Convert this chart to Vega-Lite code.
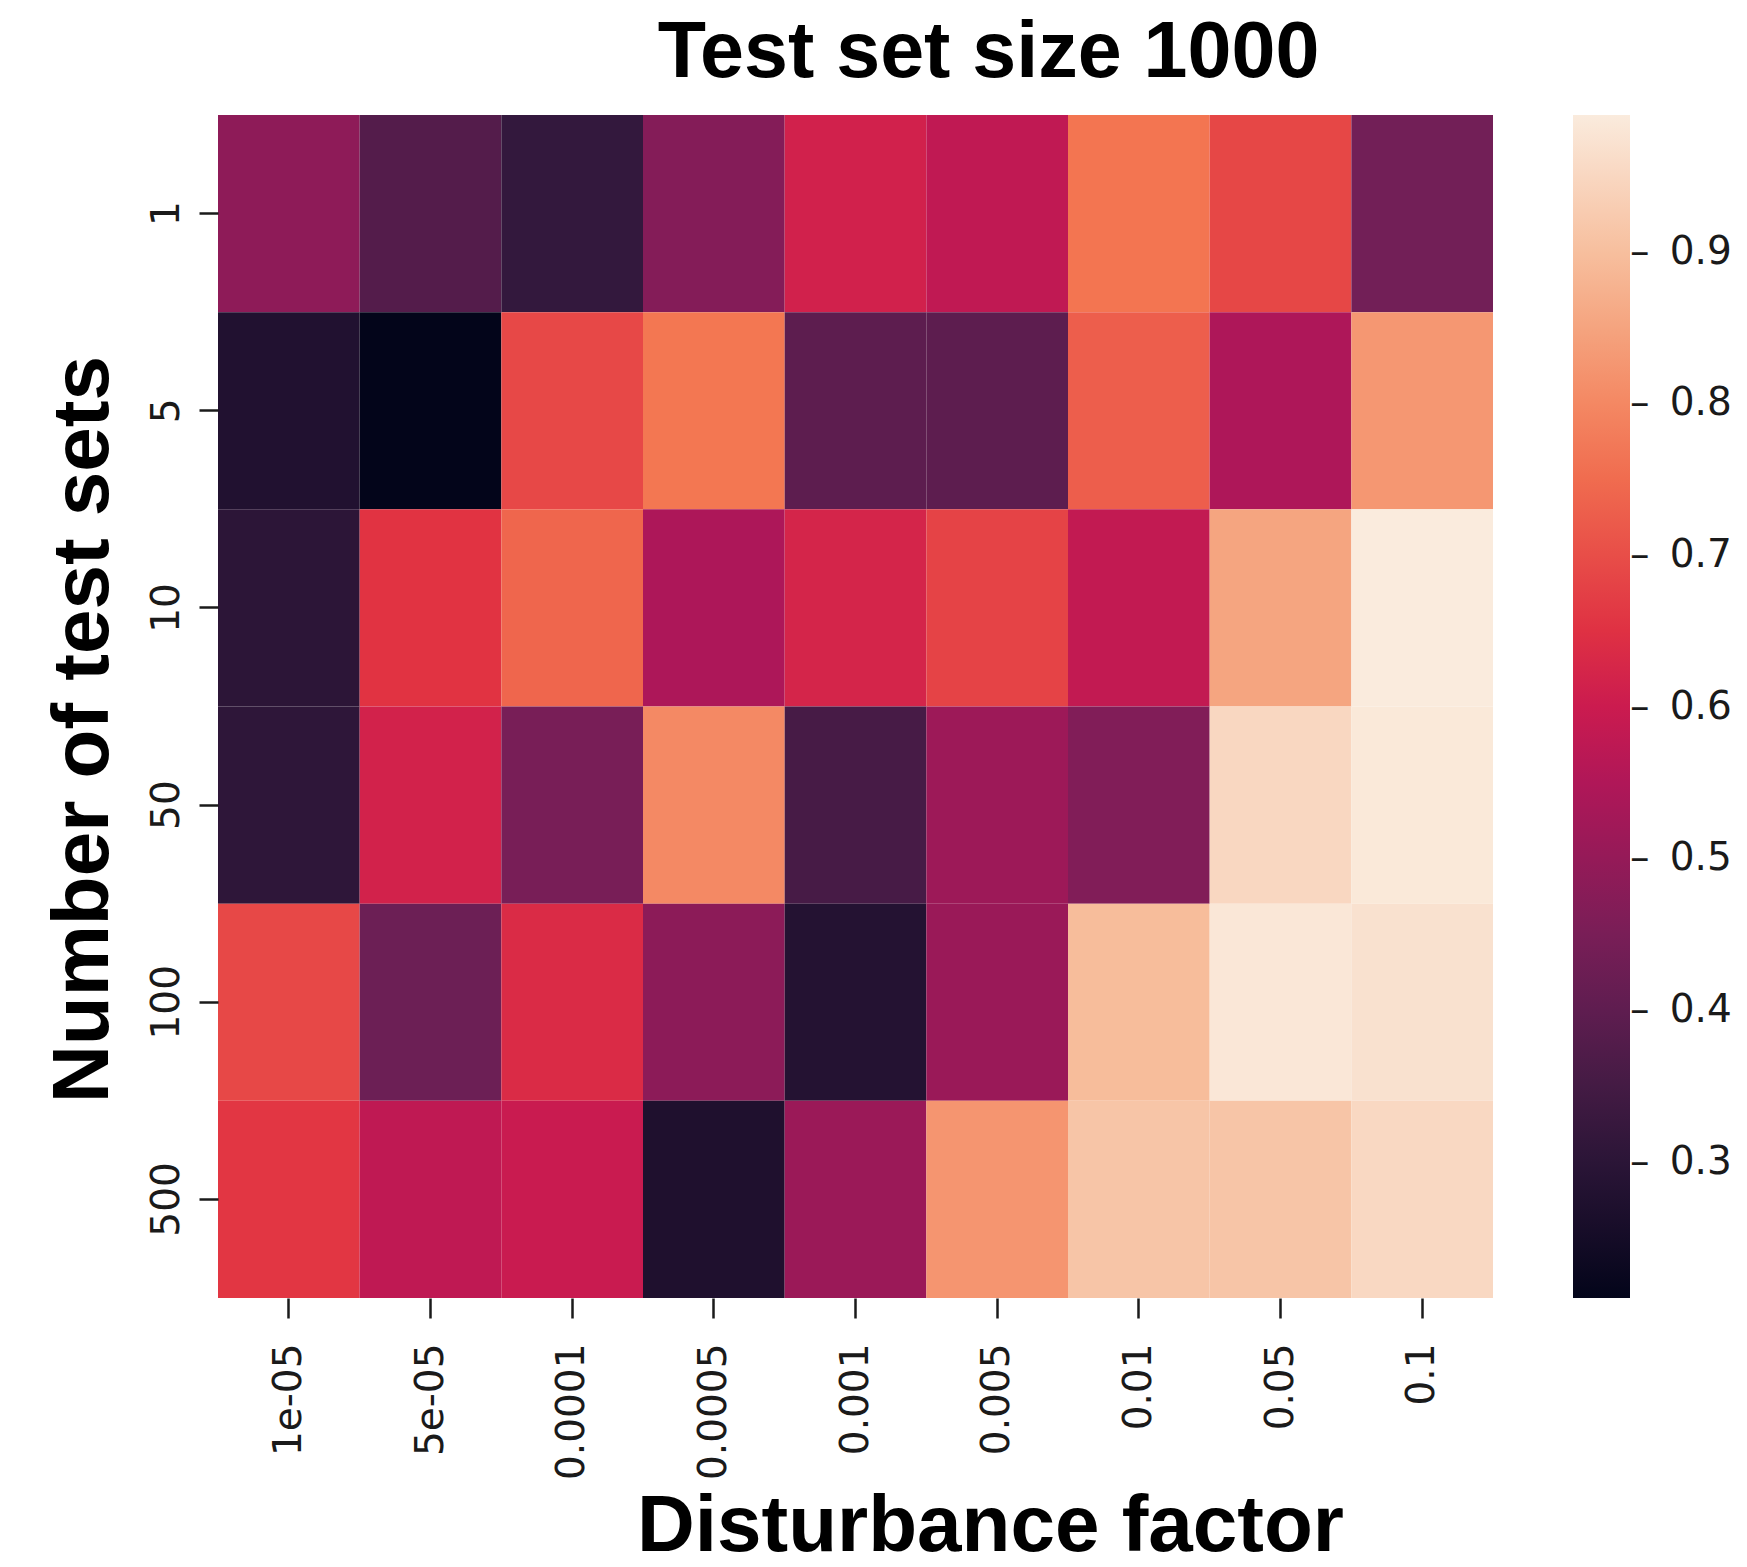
{
  "$schema": "https://vega.github.io/schema/vega-lite/v6.json",
  "autosize": "none",
  "padding": {"left": 218, "top": 115, "right": 254, "bottom": 269},
  "width": 1275,
  "height": 1183,
  "background": "white",
  "view": {"stroke": null},
  "title": {
    "text": "Test set size 1000",
    "font": "Liberation Sans",
    "fontWeight": "bold",
    "fontSize": 79,
    "color": "black",
    "anchor": "middle",
    "frame": "group",
    "baseline": "alphabetic",
    "offset": 34,
    "dx": 133,
    "dy": 75
  },
  "data": {
    "values": [
      {"factor": "1e-05", "n": "1", "score": 0.488},
      {"factor": "5e-05", "n": "1", "score": 0.380},
      {"factor": "0.0001", "n": "1", "score": 0.317},
      {"factor": "0.0005", "n": "1", "score": 0.469},
      {"factor": "0.001", "n": "1", "score": 0.614},
      {"factor": "0.005", "n": "1", "score": 0.579},
      {"factor": "0.01", "n": "1", "score": 0.765},
      {"factor": "0.05", "n": "1", "score": 0.689},
      {"factor": "0.1", "n": "1", "score": 0.436},

      {"factor": "1e-05", "n": "5", "score": 0.277},
      {"factor": "5e-05", "n": "5", "score": 0.210},
      {"factor": "0.0001", "n": "5", "score": 0.690},
      {"factor": "0.0005", "n": "5", "score": 0.768},
      {"factor": "0.001", "n": "5", "score": 0.397},
      {"factor": "0.005", "n": "5", "score": 0.397},
      {"factor": "0.01", "n": "5", "score": 0.728},
      {"factor": "0.05", "n": "5", "score": 0.546},
      {"factor": "0.1", "n": "5", "score": 0.827},

      {"factor": "1e-05", "n": "10", "score": 0.301},
      {"factor": "5e-05", "n": "10", "score": 0.655},
      {"factor": "0.0001", "n": "10", "score": 0.740},
      {"factor": "0.0005", "n": "10", "score": 0.545},
      {"factor": "0.001", "n": "10", "score": 0.623},
      {"factor": "0.005", "n": "10", "score": 0.682},
      {"factor": "0.01", "n": "10", "score": 0.583},
      {"factor": "0.05", "n": "10", "score": 0.852},
      {"factor": "0.1", "n": "10", "score": 0.990},

      {"factor": "1e-05", "n": "50", "score": 0.305},
      {"factor": "5e-05", "n": "50", "score": 0.617},
      {"factor": "0.0001", "n": "50", "score": 0.447},
      {"factor": "0.0005", "n": "50", "score": 0.802},
      {"factor": "0.001", "n": "50", "score": 0.355},
      {"factor": "0.005", "n": "50", "score": 0.515},
      {"factor": "0.01", "n": "50", "score": 0.464},
      {"factor": "0.05", "n": "50", "score": 0.950},
      {"factor": "0.1", "n": "50", "score": 0.985},

      {"factor": "1e-05", "n": "100", "score": 0.690},
      {"factor": "5e-05", "n": "100", "score": 0.425},
      {"factor": "0.0001", "n": "100", "score": 0.637},
      {"factor": "0.0005", "n": "100", "score": 0.484},
      {"factor": "0.001", "n": "100", "score": 0.283},
      {"factor": "0.005", "n": "100", "score": 0.510},
      {"factor": "0.01", "n": "100", "score": 0.896},
      {"factor": "0.05", "n": "100", "score": 0.981},
      {"factor": "0.1", "n": "100", "score": 0.970},

      {"factor": "1e-05", "n": "500", "score": 0.661},
      {"factor": "5e-05", "n": "500", "score": 0.578},
      {"factor": "0.0001", "n": "500", "score": 0.596},
      {"factor": "0.0005", "n": "500", "score": 0.272},
      {"factor": "0.001", "n": "500", "score": 0.512},
      {"factor": "0.005", "n": "500", "score": 0.823},
      {"factor": "0.01", "n": "500", "score": 0.913},
      {"factor": "0.05", "n": "500", "score": 0.913},
      {"factor": "0.1", "n": "500", "score": 0.952}
    ]
  },
  "mark": {"type": "rect", "strokeWidth": 0},
  "encoding": {
    "x": {
      "field": "factor",
      "type": "ordinal",
      "sort": ["1e-05", "5e-05", "0.0001", "0.0005", "0.001", "0.005", "0.01", "0.05", "0.1"],
      "scale": {"paddingInner": 0, "paddingOuter": 0},
      "axis": {
        "title": "Disturbance factor",
        "titleFont": "Liberation Sans",
        "titleFontWeight": "bold",
        "titleFontSize": 80,
        "titleColor": "black",
        "titleAlign": "center",
        "titleBaseline": "alphabetic",
        "titleX": 772,
        "titleY": 252,
        "domain": false,
        "ticks": true,
        "tickSize": 20,
        "tickWidth": 2.5,
        "tickColor": "#1a1a1a",
        "labelFont": "DejaVu Sans",
        "labelFontSize": 39,
        "labelColor": "#1a1a1a",
        "labelAngle": 270,
        "labelAlign": "right",
        "labelBaseline": "middle",
        "labelPadding": 25,
        "labelOverlap": false
      }
    },
    "y": {
      "field": "n",
      "type": "ordinal",
      "sort": ["1", "5", "10", "50", "100", "500"],
      "scale": {"paddingInner": 0, "paddingOuter": 0},
      "axis": {
        "title": "Number of test sets",
        "titleFont": "Liberation Sans",
        "titleFontWeight": "bold",
        "titleFontSize": 80,
        "titleColor": "black",
        "titleAngle": 270,
        "titleAlign": "center",
        "titleBaseline": "alphabetic",
        "titleX": -111,
        "titleY": 614,
        "domain": false,
        "ticks": true,
        "tickSize": 19,
        "tickWidth": 2.5,
        "tickColor": "#1a1a1a",
        "labelFont": "DejaVu Sans",
        "labelFontSize": 39,
        "labelColor": "#1a1a1a",
        "labelAngle": 270,
        "labelAlign": "center",
        "labelBaseline": "alphabetic",
        "labelPadding": 21,
        "labelOverlap": false
      }
    },
    "color": {
      "field": "score",
      "type": "quantitative",
      "scale": {
        "type": "linear",
        "interpolate": "rgb",
        "domain": [0.21, 0.3214, 0.4329, 0.5443, 0.6, 0.6557, 0.7671, 0.8786, 0.99],
        "range": ["#03051A", "#35193E", "#701F57", "#AD1759", "#CB1B4F", "#E13342", "#F37651", "#F6B48F", "#FAEBDD"]
      },
      "legend": {
        "title": null,
        "orient": "right",
        "offset": 80,
        "padding": 0,
        "direction": "vertical",
        "gradientLength": 1183,
        "gradientThickness": 57,
        "gradientStrokeWidth": 0,
        "values": [0.3, 0.4, 0.5, 0.6, 0.7, 0.8, 0.9],
        "labelExpr": "'\u2013 \u2009' + format(datum.value, '.1f')",
        "labelFont": "DejaVu Sans",
        "labelFontSize": 39,
        "labelColor": "#1a1a1a",
        "labelAlign": "left",
        "labelBaseline": "middle",
        "labelOffset": 0,
        "labelOverlap": false
      }
    }
  }
}
